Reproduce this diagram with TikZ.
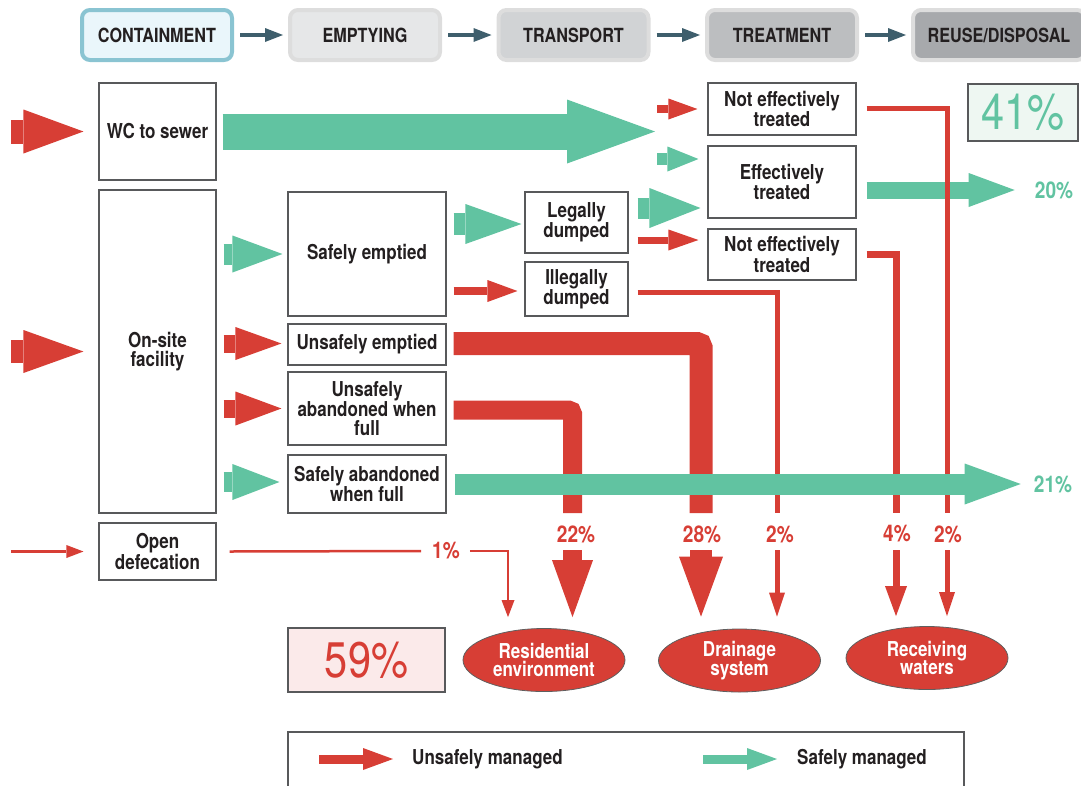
\documentclass[tikz,border=0pt]{standalone}
\usepackage{fontspec}
\setmainfont{TeX Gyre Heros}[FakeStretch=0.83]
\usetikzlibrary{arrows.meta,shapes.geometric,calc}

\definecolor{flowred}{RGB}{215,62,53}
\definecolor{flowgreen}{RGB}{97,195,161}
\definecolor{hdrarrow}{RGB}{62,94,108}
\definecolor{txt}{RGB}{35,31,32}
\definecolor{boxline}{RGB}{88,89,91}
\definecolor{sinkline}{RGB}{95,95,95}
\definecolor{contline}{RGB}{138,196,210}
\definecolor{contfill}{RGB}{234,246,251}
\definecolor{hdrline}{RGB}{221,221,221}
\definecolor{emptfill}{RGB}{230,231,232}
\definecolor{transfill}{RGB}{209,211,213}
\definecolor{treatfill}{RGB}{188,190,192}
\definecolor{reusefill}{RGB}{167,169,172}
\definecolor{safefill}{RGB}{238,247,242}
\definecolor{unsafefill}{RGB}{251,234,234}

\newcommand{\hdrfont}{\bfseries\fontsize{19.5}{20}\selectfont}
\newcommand{\boxfont}{\bfseries\fontsize{20.5}{18.5}\selectfont}
\newcommand{\pctfont}{\bfseries\fontsize{23}{24}\selectfont}
\newcommand{\bigpctfont}{\fontsize{50}{52}\selectfont}

\tikzset{
  hdr/.style={rounded corners=8pt, line width=4pt, draw=hdrline, minimum width=150pt, minimum height=50pt, inner sep=0pt, font=\hdrfont, text=txt},
  box/.style={draw=boxline, line width=1.1pt, fill=white, align=center, inner sep=0pt, font=\boxfont, text=txt},
  sink/.style={ellipse, draw=sinkline, line width=0.8pt, fill=flowred, text=white, align=center, inner sep=0pt, minimum width=162pt, minimum height=63pt, font=\boxfont},
  pct/.style={font=\pctfont, text=flowred, inner sep=0pt},
  legtext/.style={font=\boxfont, text=txt, inner sep=0pt},
  redflow/.style={draw=flowred, line width=#1},
  greenflow/.style={draw=flowgreen, line width=#1},
  flowtip/.style 2 args={-{Triangle[length=#1,width=#2,line width=0pt]}},
  stagearrow/.style={draw=hdrarrow, line width=4.5pt, -{Triangle[length=18pt,width=14pt,line width=0pt]}}
}

\begin{document}
\begin{tikzpicture}[x=1pt,y=-1pt]
\useasboundingbox (0,0) rectangle (1081,785);

\node[hdr, draw=contline, fill=contfill] (hContain) at (157,35) {CONTAINMENT};
\node[hdr, fill=emptfill] (hEmpty) at (365,35) {EMPTYING};
\node[hdr, fill=transfill] (hTrans) at (573.5,35) {TRANSPORT};
\node[hdr, fill=treatfill] (hTreat) at (782,35) {TREATMENT};
\node[hdr, fill=reusefill, minimum width=172pt] (hReuse) at (999,35) {REUSE/DISPOSAL};

\draw[stagearrow] ([xshift=6pt]hContain.east) -- ([xshift=-5pt]hEmpty.west);
\draw[stagearrow] ([xshift=6pt]hEmpty.east) -- ([xshift=-5pt]hTrans.west);
\draw[stagearrow] ([xshift=6pt]hTrans.east) -- ([xshift=-5pt]hTreat.west);
\draw[stagearrow] ([xshift=6pt]hTreat.east) -- ([xshift=-5pt]hReuse.west);

\node[box, minimum width=117pt, minimum height=97pt] (wc) at (157.5,131.5) {WC to sewer};
\node[box, minimum width=117pt, minimum height=323pt] (onsite) at (157.5,351.5) {On-site\\facility};
\node[box, minimum width=117pt, minimum height=57pt] (openDef) at (157.5,551.5) {Open\\defecation};
\node[box, minimum width=158pt, minimum height=124pt] (safeEmp) at (367,254) {Safely emptied};
\node[box, minimum width=158pt, minimum height=41pt] (unsEmp) at (367,344.5) {Unsafely emptied};
\node[box, minimum width=158pt, minimum height=73pt] (unsAband) at (367,408.5) {Unsafely\\abandoned when\\full};
\node[box, minimum width=158pt, minimum height=58pt] (safeAband) at (367,484) {Safely abandoned\\when full};
\node[box, minimum width=103pt, minimum height=61pt] (legal) at (576.5,222.5) {Legally\\dumped};
\node[box, minimum width=103pt, minimum height=54pt] (illegal) at (576.5,289) {Illegally\\dumped};
\node[box, minimum width=148pt, minimum height=52pt] (netTop) at (782,109) {Not effectively\\treated};
\node[box, minimum width=148pt, minimum height=72pt] (effTr) at (782,182) {Effectively\\treated};
\node[box, minimum width=148pt, minimum height=51pt] (netLow) at (782,254.5) {Not effectively\\treated};

\node[box, fill=safefill, minimum width=110pt, minimum height=57pt, font=\bigpctfont, text=flowgreen] (pctSafe) at (1023,112.5) {41\%};
\node[box, fill=unsafefill, minimum width=157pt, minimum height=64pt, font=\bigpctfont, text=flowred] (pctUnsafe) at (366.5,660) {59\%};

\node[sink] (resid) at (544,660) {Residential\\environment};
\node[sink] (drain) at (739.5,660.5) {Drainage\\system};
\node[sink] (recv) at (927,658) {Receiving\\waters};

\node[pct] (p1) at (446,551) {1\%};
\node[pct] (p22) at (576,534) {22\%};
\node[pct] (p28) at (702,534) {28\%};
\node[pct] (p2a) at (780,534) {2\%};
\node[pct] (p4) at (897,534) {4\%};
\node[pct] (p2b) at (948,534) {2\%};
\node[pct, text=flowgreen] (p20) at (1054,190) {20\%};
\node[pct, text=flowgreen] (p21) at (1053,484) {21\%};

\coordinate (inWC) at (11,131.5);
\coordinate (inOnsite) at (11,351.5);
\coordinate (inOpen) at (11,551.5);
\coordinate (sewerTip) at (655,131.5);

\draw[redflow=24pt, flowtip={60pt}{44pt}] (inWC) -- ([xshift=-15pt]wc.west);
\draw[redflow=23pt, flowtip={60pt}{43pt}] (inOnsite) -- ([xshift=-15pt]onsite.west);
\draw[redflow=2.5pt, flowtip={17pt}{13pt}] (inOpen) -- ([xshift=-15pt]openDef.west);

\draw[greenflow=36pt, flowtip={88pt}{64pt}] ([xshift=6pt]wc.east) -- (sewerTip);
\draw[redflow=8pt, flowtip={29pt}{21pt}] ($(netTop.west)+(-50,0)$) -- ($(netTop.west)+(-10,0)$);
\draw[greenflow=12pt, flowtip={31pt}{25pt}] ($(effTr.west)+(-50,-23)$) -- ($(effTr.west)+(-9,-23)$);

\draw[greenflow=21pt, flowtip={50pt}{37pt}] ($(onsite.east |- safeEmp.west)+(7,0)$) -- ($(safeEmp.west)+(-5,0)$);
\draw[redflow=18pt, flowtip={46pt}{33pt}] ($(onsite.east |- unsEmp.west)+(7,-1)$) -- ($(unsEmp.west)+(-6,-1)$);
\draw[redflow=18pt, flowtip={46pt}{34pt}] ($(onsite.east |- unsAband.west)+(7,0)$) -- ($(unsAband.west)+(-6,0)$);
\draw[greenflow=20pt, flowtip={47pt}{36pt}] ($(onsite.east |- safeAband.west)+(7,-2)$) -- ($(safeAband.west)+(-8,-2)$);

\draw[greenflow=22pt, flowtip={56pt}{40pt}] ($(safeEmp.east |- legal.west)+(7,1.5)$) -- ($(legal.west)+(-3,1.5)$);
\draw[redflow=8pt, flowtip={30pt}{22pt}] ($(safeEmp.east |- illegal.west)+(7,2)$) -- ($(illegal.west)+(-7,2)$);
\draw[greenflow=21pt, flowtip={51pt}{40pt}] ($(legal.east)+(9,-14.5)$) -- ($(effTr.west |- legal.east)+(-7,-14.5)$);
\draw[redflow=7pt, flowtip={30pt}{21pt}] ($(legal.east)+(9,17.5)$) -- ($(netLow.west)+(-9,-14.5)$);

\draw[greenflow=17pt, flowtip={46pt}{34pt}] ($(effTr.east)+(10,8)$) -- ($(p20.west)+(-20,0)$);

\draw[redflow=23pt, rounded corners=4pt] ($(unsEmp.east)+(7,-1)$) -| ($(p28)+(-1,-21)$);
\draw[redflow=22pt, flowtip={60pt}{44pt}] ($(p28)+(-1,16)$) -- ($(drain.north -| p28)+(-1,-12)$);
\draw[redflow=19pt, rounded corners=4pt] ($(unsAband.east)+(7,1.5)$) -| ($(p22)+(-3.5,-21)$);
\draw[redflow=19pt, flowtip={57pt}{41pt}] ($(p22)+(-3.5,16)$) -- ($(resid.north -| p22)+(-3.5,-11)$);
\draw[redflow=5pt] ($(illegal.east)+(9,3)$) -| ($(p2a)+(-3,-21)$);
\draw[redflow=5pt, flowtip={24pt}{16pt}] ($(p2a)+(-3,16)$) -- ($(drain.north -| p2a)+(-3,-12)$);
\draw[redflow=7pt] ($(netLow.east)+(10,0)$) -| ($(p4)+(-1,-21)$);
\draw[redflow=7pt, flowtip={30pt}{22pt}] ($(p4)+(-1,16)$) -- ($(recv.north -| p4)+(-1,-10)$);
\draw[redflow=5pt] ($(netTop.east)+(10,-1)$) -| ($(p2b)+(-1,-21)$);
\draw[redflow=5pt, flowtip={24pt}{16pt}] ($(p2b)+(-1,16)$) -- ($(recv.north -| p2b)+(-1,-10)$);
\draw[redflow=2.5pt] ($(openDef.east)+(13,0)$) -- ($(p1.west)+(-11,0)$);
\draw[redflow=2.5pt, flowtip={17pt}{13pt}] ($(p1.east)+(10,0)$) -| ($(resid.north)+(-36,-11)$);

\draw[greenflow=21pt, flowtip={56pt}{41pt}] ($(safeAband.east)+(8,0)$) -- ($(p21.west)+(-13,0)$);

\node[draw=boxline, line width=1.1pt, minimum width=676pt, minimum height=64pt, inner sep=0pt] (legend) at (626,764) {};
\node[legtext, anchor=west] (legUnsafe) at (412,759) {Unsafely managed};
\node[legtext, anchor=west] (legSafe) at (797,759) {Safely managed};
\draw[redflow=9pt, flowtip={30pt}{22pt}] ($(legUnsafe.west)+(-93,0)$) -- ($(legUnsafe.west)+(-19,0)$);
\draw[greenflow=9pt, flowtip={30pt}{22pt}] ($(legSafe.west)+(-94,0)$) -- ($(legSafe.west)+(-20,0)$);

\end{tikzpicture}
\end{document}
